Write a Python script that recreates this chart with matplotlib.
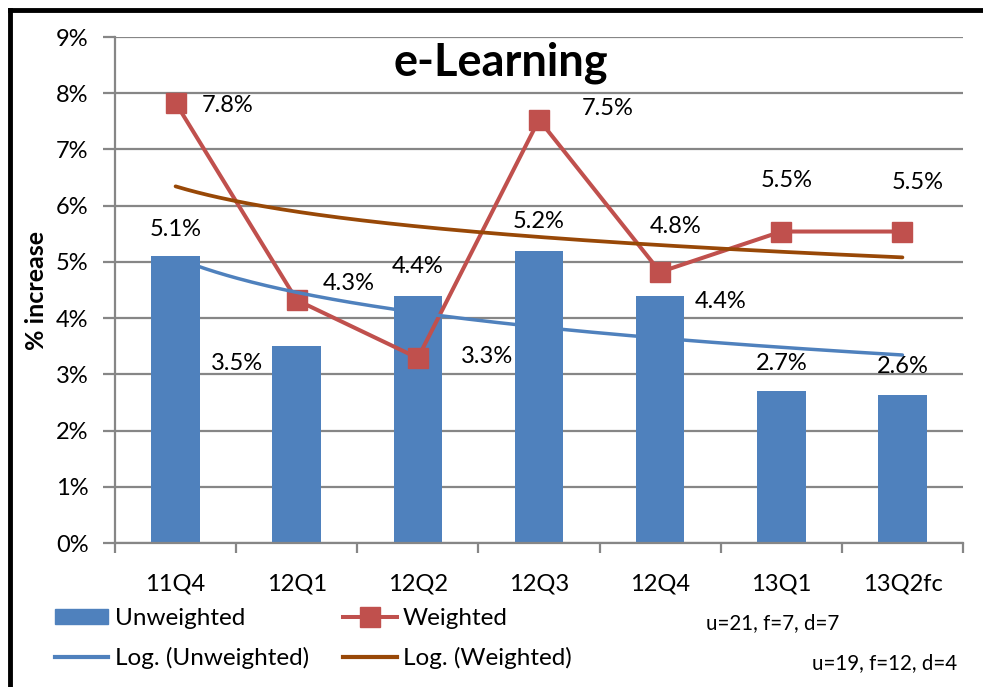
import numpy as np
import matplotlib.pyplot as plt
from matplotlib.lines import Line2D
from matplotlib.patches import Patch

plt.rcParams['font.family'] = ['Lato', 'DejaVu Sans']

# Datos por trimestre (% de incremento)
trimestres = ['11Q4', '12Q1', '12Q2', '12Q3', '12Q4', '13Q1', '13Q2fc']
sin_ponderar = [5.1, 3.5, 4.4, 5.2, 4.4, 2.7, 2.64]
ponderado = [7.83, 4.32, 3.29, 7.53, 4.82, 5.54, 5.54]

# Desplazamiento de las etiquetas (pixeles) respecto a cada marca
desp_barras = [(0, 27), (-60, -17), (0, 29), (0, 29), (60, -6), (0, 28), (0, 28)]
desp_linea = [(52, -3), (52, 17), (69, 2), (69, 11), (15, 46), (5, 51), (15, 49)]

AZUL = '#4F81BD'
ROJO = '#C0504D'
MARRON = '#984807'
GRIS = '#868686'

fig = plt.figure(figsize=(9.83, 6.87), dpi=100)
ax = fig.add_axes([115 / 983, 1 - 543 / 687, 848 / 983, 506 / 687])

x = np.arange(len(trimestres))
ax.bar(x, sin_ponderar, width=0.4, color=AZUL, zorder=2)
ax.plot(x, ponderado, color=ROJO, lw=2.9, marker='s', ms=14, zorder=3)

# Tendencias logarítmicas (ajuste y = a*ln(n) + b)
n = x + 1
xs = np.linspace(1, 7, 200)
a_u, b_u = np.polyfit(np.log(n), sin_ponderar, 1)
a_p, b_p = np.polyfit(np.log(n), ponderado, 1)
ax.plot(xs - 1, a_u * np.log(xs) + b_u, color=AZUL, lw=2.5, zorder=4,
        solid_capstyle='round')
ax.plot(xs - 1, a_p * np.log(xs) + b_p, color=MARRON, lw=2.7, zorder=5,
        solid_capstyle='round')

for xi, v, d in zip(x, sin_ponderar, desp_barras):
    ax.annotate(f'{v:.1f}%', (xi, v), xytext=d, textcoords='offset pixels',
                ha='center', va='center', fontsize=17, zorder=6)
for xi, v, d in zip(x, ponderado, desp_linea):
    ax.annotate(f'{v:.1f}%', (xi, v), xytext=d, textcoords='offset pixels',
                ha='center', va='center', fontsize=17, zorder=6)

ax.set_xlim(-0.5, 6.5)
ax.set_ylim(0, 9)
ax.set_yticks(range(10))
ax.set_yticklabels([f'{i}%' for i in range(10)], fontsize=17)
ax.yaxis.grid(True, color=GRIS, lw=1.6, zorder=0)
ax.set_axisbelow(True)
ax.tick_params(axis='y', length=9, width=1.6, color=GRIS, pad=10)

ax.set_xticks(np.arange(-0.5, 7, 1))
ax.set_xticklabels([])
ax.set_xticks(x, minor=True)
ax.set_xticklabels(trimestres, minor=True, fontsize=17)
ax.tick_params(axis='x', which='major', length=7, width=1.6, color=GRIS)
ax.tick_params(axis='x', which='minor', length=0, pad=22)

for lado in ['top', 'right']:
    ax.spines[lado].set_visible(False)
for lado in ['left', 'bottom']:
    ax.spines[lado].set_color(GRIS)
    ax.spines[lado].set_linewidth(1.6)

ax.set_ylabel('% increase', fontsize=18, fontweight='bold', labelpad=6)
ax.text(0.455, 0.95, 'e-Learning', transform=ax.transAxes, ha='center',
        va='center', fontsize=32.5, fontweight='bold')

manijas = [
    Patch(color=AZUL),
    Line2D([], [], color=AZUL, lw=3),
    Line2D([], [], color=ROJO, lw=2.9, marker='s', ms=14),
    Line2D([], [], color=MARRON, lw=3),
]
etiquetas = ['Unweighted', 'Log. (Unweighted)', 'Weighted', 'Log. (Weighted)']
fig.legend(manijas, etiquetas, ncol=2, loc='upper left',
           bbox_to_anchor=(55 / 983, 1 - 608 / 687), frameon=False,
           fontsize=17.5, handlelength=2.2, handletextpad=0.25,
           columnspacing=1.43, labelspacing=0.75, borderpad=0,
           borderaxespad=0, numpoints=1, handleheight=0.6)

fig.text(706 / 983, 1 - 623 / 687, 'u=21, f=7, d=7', fontsize=14.8,
         va='center')
fig.text(812 / 983, 1 - 663 / 687, 'u=19, f=12, d=4', fontsize=14.8,
         va='center')

# Marco negro (izquierda y arriba)
fig.add_artist(Line2D([10 / 983, 10 / 983], [0, 1 - 10 / 687],
                      color='black', lw=3.5, transform=fig.transFigure))
fig.add_artist(Line2D([10 / 983, 1], [1 - 10 / 687, 1 - 10 / 687],
                      color='black', lw=3.5, transform=fig.transFigure))

fig.savefig('out.png', dpi=100)
